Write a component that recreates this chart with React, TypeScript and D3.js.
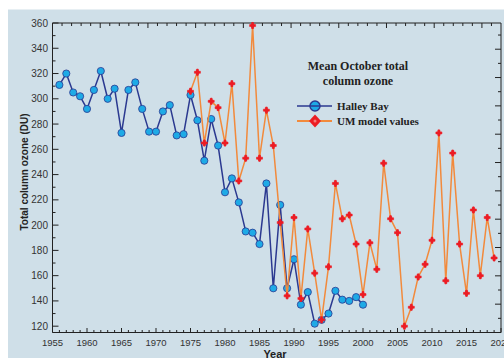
import React from "react";
import * as d3 from "d3";

const halleyYears = d3.range(1956, 2001);
const halleyValues = [311, 320, 305, 302, 292, 307, 322, 300, 308, 273, 307, 313, 292, 274, 274, 290, 295, 271, 272, 303, 283, 251, 284, 263, 226, 237, 218, 195, 194, 185, 233, 150, 216, 150, 173, 137, 147, 122, 125, 130, 148, 141, 140, 143, 137];

const umYears = d3.range(1975, 2020);
const umValues = [306, 321, 265, 298, 293, 265, 312, 235, 253, 358, 253, 291, 263, 202, 144, 206, 142, 197, 162, 125, 167, 233, 205, 208, 185, 145, 186, 165, 249, 205, 194, 120, 135, 159, 169, 188, 273, 156, 257, 185, 146, 212, 160, 206, 174];

const xTickLabels = [1955, 1960, 1965, 1970, 1975, 1980, 1985, 1990, 1995, 2000, 2005, 2010, 2015, 2020];
const yTickLabels = [120, 140, 160, 180, 200, 220, 240, 260, 280, 300, 320, 340, 360];

const W = 504, H = 358;
const L = 52.5, R = 501, T = 23, B = 332.5;
const BG = "#cfdfe8";
const NAVY = "#2b3990";
const CYAN = "#1eaae6";
const ORANGE = "#f28a3c";
const RED = "#ec1c24";
const AXIS = "#222";
const TXT = "#333";
const SANS = "'Liberation Sans', Arial, sans-serif";
const SERIF = "'Liberation Serif', 'Times New Roman', serif";

export default function App() {
  const x = d3.scaleLinear().domain([1955, 2020]).range([L, R]);
  const y = d3.scaleLinear().domain([115, 360]).range([B, T]);
  const topScale = d3.scaleLinear().domain([0, 47]).range([L, R]);
  const rightScale = d3.scaleLinear().domain([0, 21.85]).range([B, T]);

  const halley = halleyYears.map((yr, i) => ({ yr, v: halleyValues[i] }));
  const um = umYears.map((yr, i) => ({ yr, v: umValues[i] }));
  const line = d3.line<{ yr: number; v: number }>().x(d => x(d.yr)).y(d => y(d.v));

  const cross = d3.symbol().type(d3.symbolCross).size(20)() as string;
  const diamond = d3.symbol().type(d3.symbolDiamond).size(16)() as string;

  const yearTicks = d3.range(1955, 2021);
  const yMinor = d3.range(120, 361, 10);
  const topTicks = d3.range(1, 47);
  const rightTicks = d3.range(1, 22);

  return (
    <svg width={W} height={H} style={{ position: "absolute", left: 0, top: 0 }}>
      <rect x={0} y={0} width={W} height={H} fill="#fff" />
      <rect x={8} y={9.5} width={W - 8} height={H - 9.5} fill={BG} />

      {/* axes frame */}
      <line x1={L} x2={L} y1={T} y2={B} stroke={AXIS} strokeWidth={1} />
      <line x1={L} x2={R} y1={B} y2={B} stroke={AXIS} strokeWidth={1} />
      <line x1={L} x2={R} y1={T} y2={T} stroke={AXIS} strokeWidth={1} />
      <line x1={R} x2={R} y1={T} y2={B} stroke={AXIS} strokeWidth={1} />

      {/* left ticks */}
      {yMinor.map(v => (
        <line key={"yl" + v} x1={L} x2={L + (v % 20 === 0 ? 6 : 3)} y1={y(v)} y2={y(v)} stroke={AXIS} strokeWidth={1} />
      ))}
      {yTickLabels.map(v => (
        <text key={"yt" + v} x={48} y={y(v)} dy="0.35em" textAnchor="end" fontFamily={SANS} fontSize={10} fill={TXT}>{v}</text>
      ))}

      {/* bottom ticks */}
      {yearTicks.map(yr => (
        <line key={"xb" + yr} x1={x(yr)} x2={x(yr)} y1={B} y2={B - (yr % 5 === 0 ? 4.5 : 2.5)} stroke={AXIS} strokeWidth={1} />
      ))}
      {xTickLabels.map(yr => (
        <text key={"xt" + yr} x={x(yr)} y={346} textAnchor="middle" fontFamily={SANS} fontSize={9.5} fill={TXT}>{yr}</text>
      ))}

      {/* top ticks */}
      {topTicks.map(k => (
        <line key={"tt" + k} x1={topScale(k)} x2={topScale(k)} y1={T} y2={T + (k % 5 === 0 ? 5 : 3)} stroke={AXIS} strokeWidth={1} />
      ))}
      {/* right ticks */}
      {rightTicks.map(k => (
        <line key={"rt" + k} x1={R} x2={R - (k % 2 === 0 ? 6 : 3)} y1={rightScale(k)} y2={rightScale(k)} stroke={AXIS} strokeWidth={1} />
      ))}

      {/* axis titles */}
      <text transform={`translate(24,172) rotate(-90)`} dy="0.35em" textAnchor="middle" fontFamily={SANS} fontWeight="bold" fontSize={10} fill="#222">Total column ozone (DU)</text>
      <text x={275} y={357.5} textAnchor="middle" fontFamily={SANS} fontWeight="bold" fontSize={11} fill="#222">Year</text>

      {/* series */}
      <path d={line(halley) as string} fill="none" stroke={NAVY} strokeWidth={1.5} strokeLinejoin="round" />
      {halley.map(d => (
        <circle key={"h" + d.yr} cx={x(d.yr)} cy={y(d.v)} r={3.6} fill={CYAN} stroke={NAVY} strokeWidth={0.8} />
      ))}
      <path d={line(um) as string} fill="none" stroke={ORANGE} strokeWidth={1.5} strokeLinejoin="round" />
      {um.map(d => (
        <g key={"u" + d.yr} transform={`translate(${x(d.yr)},${y(d.v)})`}>
          <path d={cross} fill={RED} stroke={RED} strokeWidth={0.6} strokeLinejoin="round" />
          <path d={diamond} fill={RED} />
        </g>
      ))}

      {/* title */}
      <text x={358} y={69.5} textAnchor="middle" fontFamily={SERIF} fontWeight="bold" fontSize={12} fill="#222">Mean October total</text>
      <text x={358} y={84.5} textAnchor="middle" fontFamily={SERIF} fontWeight="bold" fontSize={12} fill="#222">column ozone</text>

      {/* legend */}
      <circle cx={315} cy={106} r={5} fill={CYAN} stroke={NAVY} strokeWidth={1.5} />
      <line x1={297} x2={332} y1={106} y2={106} stroke={NAVY} strokeWidth={1.5} />
      <text x={337} y={110} fontFamily={SERIF} fontWeight="bold" fontSize={11} fill="#222">Halley Bay</text>
      <line x1={297} x2={332} y1={121} y2={121} stroke={ORANGE} strokeWidth={2} />
      <path d="M315,114.5 L321,121 L315,127.5 L309,121 Z" fill={RED} />
      <circle cx={315} cy={121} r={1.5} fill="#f47a7a" />
      <text x={337} y={125} fontFamily={SERIF} fontWeight="bold" fontSize={11} fill="#222">UM model values</text>
    </svg>
  );
}
